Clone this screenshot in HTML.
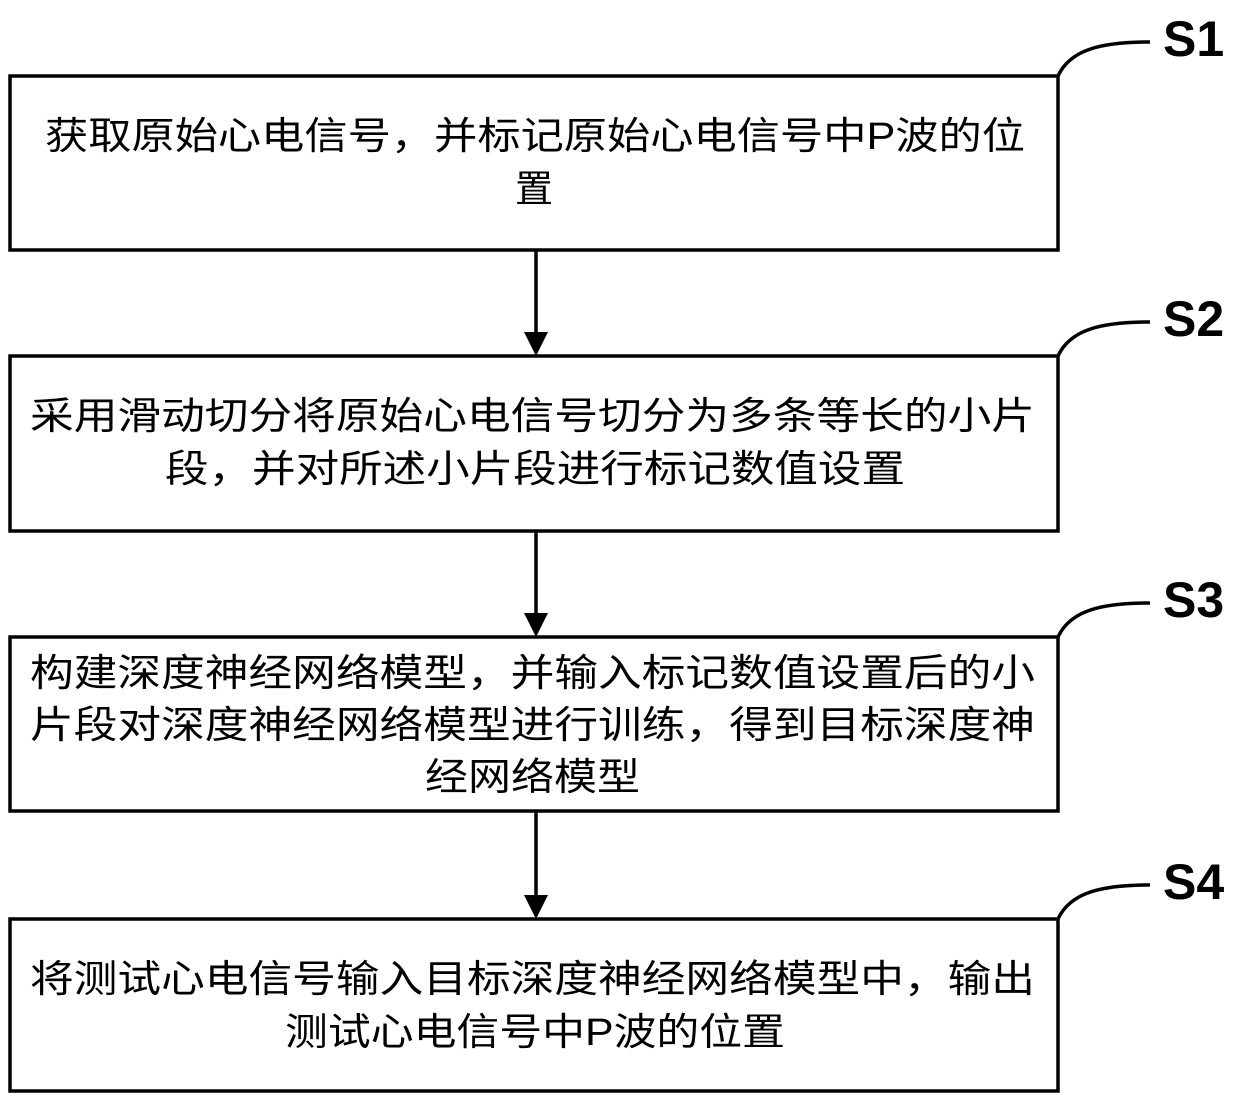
<!DOCTYPE html>
<html><head><meta charset="utf-8"><style>
html,body{margin:0;padding:0;background:#fff;}
svg{display:block}
text{font-family:"Liberation Sans","Noto Sans CJK SC",sans-serif;font-size:38px;fill:#000}
.s{font-family:"Liberation Sans","DejaVu Sans",sans-serif;font-size:50px;font-weight:bold}
</style></head><body>
<svg width="1240" height="1104" viewBox="0 0 1240 1104" xmlns="http://www.w3.org/2000/svg">
<g fill="none" stroke="#000" stroke-width="3.5">
<rect x="10" y="76" width="1048" height="174"/>
<rect x="10" y="356" width="1048" height="175"/>
<rect x="10" y="637" width="1048" height="174"/>
<rect x="10" y="919" width="1048" height="172"/>
<path d="M1058 76 C1070 50 1100 42 1150 42"/>
<path d="M1058 356 C1070 330 1100 322 1150 322"/>
<path d="M1058 637 C1070 611 1100 603 1150 603"/>
<path d="M1058 919 C1070 893 1100 885 1150 885"/>
<line x1="536" y1="250" x2="536" y2="334"/>
<line x1="536" y1="531" x2="536" y2="615"/>
<line x1="536" y1="811" x2="536" y2="897"/>
</g>
<g fill="#000">
<polygon points="524,332 548,332 536,356"/>
<polygon points="524,613 548,613 536,637"/>
<polygon points="524,895 548,895 536,919"/>
</g>
<text class="s" x="1163" y="56">S1</text>
<text class="s" x="1163" y="336">S2</text>
<text class="s" x="1163" y="617">S3</text>
<text class="s" x="1163" y="899">S4</text>

<text x="45" y="149" textLength="980" lengthAdjust="spacingAndGlyphs">获取原始心电信号，并标记原始心电信号中P波的位</text>
<text x="515" y="202">置</text>

<text x="30" y="429" textLength="1005" lengthAdjust="spacingAndGlyphs">采用滑动切分将原始心电信号切分为多条等长的小片</text>
<text x="165" y="482" textLength="740" lengthAdjust="spacingAndGlyphs">段，并对所述小片段进行标记数值设置</text>

<text x="30" y="686" textLength="1005" lengthAdjust="spacingAndGlyphs">构建深度神经网络模型，并输入标记数值设置后的小</text>
<text x="30" y="738" textLength="1005" lengthAdjust="spacingAndGlyphs">片段对深度神经网络模型进行训练，得到目标深度神</text>
<text x="425" y="790" textLength="215" lengthAdjust="spacingAndGlyphs">经网络模型</text>

<text x="30" y="992" textLength="1005" lengthAdjust="spacingAndGlyphs">将测试心电信号输入目标深度神经网络模型中，输出</text>
<text x="285" y="1045" textLength="500" lengthAdjust="spacingAndGlyphs">测试心电信号中P波的位置</text>
</svg>
</body></html>
